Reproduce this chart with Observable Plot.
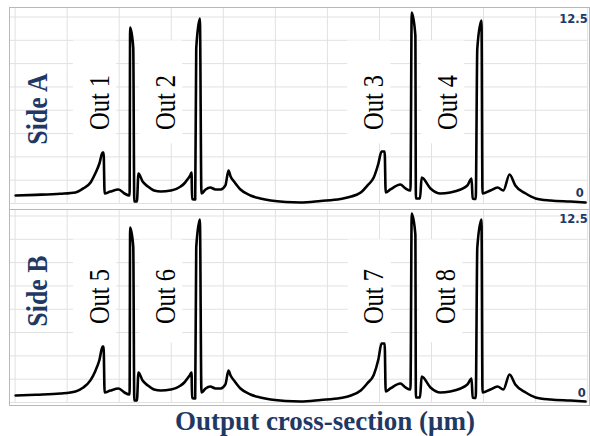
<!DOCTYPE html>
<html><head><meta charset="utf-8">
<script src="https://cdn.jsdelivr.net/npm/d3@7"></script>
<script src="https://cdn.jsdelivr.net/npm/@observablehq/plot@0.6"></script>
<style>
body{margin:0;background:#fff;width:590px;height:436px;overflow:hidden;position:relative}
#a{position:absolute;left:0;top:8px}
#b{position:absolute;left:0;top:209px}
.border{position:absolute;border:1.5px solid #b8b8b8;box-sizing:border-box;pointer-events:none}
#xlabel{position:absolute;left:60px;width:530px;top:406px;text-align:center;font:bold 27px/30px "Liberation Serif",serif;color:#1f3864;white-space:nowrap}
</style></head><body>
<div id="a"></div><div id="b"></div>
<div class="border" style="left:9px;top:7px;width:581px;height:203px"></div>
<div class="border" style="left:9px;top:209px;width:581px;height:197px"></div>
<div id="xlabel">Output cross-section (μm)</div>
<script>
// position across the output cross-section (μm)
const xPos = [0.1,4.0,8.7,11.6,13.1,14.5,15.4,16.2,16.8,17.0,17.2,18.3,19.9,21.0,22.0,22.1,22.7,22.9,23.4,23.7,
  24.5,25.5,26.7,28.0,29.9,31.0,31.8,32.5,33.1,33.6,33.9,34.0,34.6,34.8,35.5,35.8,36.6,37.5,38.5,39.5,
  40.4,41.0,41.4,42.2,43.3,45.2,47.1,49.1,52.0,54.8,58.7,62.5,64.4,66.4,67.7,68.9,69.8,70.4,71.0,71.2,
  72.1,74.0,75.0,75.96,76.2,76.9,77.0,77.8,78.1,79.8,81.7,83.6,85.6,86.9,87.7,87.9,88.5,88.8,89.6,89.8,
  91.3,92.7,93.8,95.0,96.1,98.1,100.0,102.9,106.7,109.6];
// intensity profile, side A
const sideA = [0.54,0.58,0.65,0.74,1.01,1.41,2.01,2.68,3.42,3.42,0.67,0.80,0.94,0.67,0.54,11.8,10.45,0.13,0.13,2.01,
  1.47,1.14,0.87,0.8,0.87,0.98,1.14,1.34,1.61,1.85,2.08,0.3,0.27,10.39,12.4,0.67,0.94,1.07,0.94,0.94,
  1.21,2.21,1.81,1.41,0.94,0.54,0.34,0.2,0.1,0.07,0.17,0.3,0.45,0.74,1.21,1.74,2.68,3.49,3.49,0.74,
  0.94,1.27,1.01,0.87,12.8,11.26,0.34,0.34,1.74,1.01,0.67,0.74,0.94,1.21,1.68,0.34,0.3,10.39,12.27,0.67,
  0.87,1.07,0.87,1.94,1.21,0.67,0.34,0.2,0.13,0.07];
// intensity profile, side B
const sideB = [0.47,0.52,0.6,0.74,1.0,1.5,2.1,2.85,3.75,3.75,0.67,0.80,0.94,0.67,0.54,11.73,10.45,0.13,0.13,2.01,
  1.47,1.14,0.87,0.8,0.87,0.98,1.14,1.34,1.61,1.85,2.0,0.3,0.27,10.39,12.27,0.67,0.94,1.07,0.94,0.94,
  1.21,2.14,1.81,1.41,0.94,0.54,0.34,0.2,0.1,0.07,0.17,0.3,0.45,0.8,1.3,1.85,2.9,3.95,3.95,0.74,
  0.94,1.27,1.01,0.87,12.67,11.26,0.34,0.34,1.74,1.01,0.67,0.74,0.94,1.21,1.6,0.34,0.3,10.39,12.27,0.67,
  0.87,1.07,0.87,1.88,1.21,0.67,0.34,0.2,0.13,0.07];
const outNamesA = ["Out 1","Out 2","Out 3","Out 4"];
const outXA = [16.2, 28.9, 68.9, 83.1];
const outNamesB = ["Out 5","Out 6","Out 7","Out 8"];
const outXB = [16.2, 28.9, 69.0, 82.7];
const sideNames = ["Side A","Side B"];
const yTicks = [0, 12.5];
const yTickLabels = ["0", "12.5"];

const xGrid = d3.range(0, 111, 10);
const yGrid = d3.range(0, 9).map(k => k * 12.5 / 8);
const navy = "#1f3864";

function panel({values, names, nx, ny, side, sideY, height, mTop, mBottom, topDy, zeroDx, zeroDy}) {
  const data = xPos.map((x, i) => ({x, v: values[i]}));
  const labels = names.map((n, i) => ({n, x: nx[i], y: ny}));
  const svg = Plot.plot({
    width: 590, height, marginLeft: 14.6, marginRight: 2.85, marginTop: mTop, marginBottom: mBottom,
    x: {domain: [0, 110], axis: null},
    y: {domain: [0, 12.5], axis: null},
    style: {background: "transparent", overflow: "visible"},
    marks: [
      Plot.ruleX(xGrid, {stroke: "#e1e1e1", strokeWidth: 1, insetTop: -mTop}),
      Plot.ruleY(yGrid, {stroke: "#e1e1e1", strokeWidth: 1, insetLeft: -5}),
      Plot.rect(labels, {x1: d => d.x - 5, x2: d => d.x + 3.3, y1: 4.0, y2: 10.9, fill: "white"}),
      Plot.line(data, {x: "x", y: "v", stroke: "black", strokeWidth: 2.6, curve: "monotone-x"}),
      Plot.text(labels, {x: "x", y: "y", text: "n", rotate: -90, fontSize: 24.5, fontFamily: "Liberation Serif", fill: "black"}),
      Plot.text([side], {frameAnchor: "left", dx: 22, y: () => sideY, text: d => d, rotate: -90, textAnchor: "middle", fontSize: 26, fontWeight: "bold", fontFamily: "Liberation Serif", fill: navy}),
      Plot.text([yTicks[1]], {x: () => 110, y: d => d, text: () => yTickLabels[1], textAnchor: "end", dy: topDy, fontSize: 11.5, fontWeight: "bold", fontFamily: "DejaVu Sans", fill: navy}),
      Plot.text([yTicks[0]], {x: () => 110, y: d => d, text: () => yTickLabels[0], textAnchor: "end", dx: zeroDx, dy: zeroDy, fontSize: 11.5, fontWeight: "bold", fontFamily: "DejaVu Sans", fill: navy})
    ]
  });
  d3.select(svg).selectAll("text").each(function() {
    const t = this.getAttribute("transform");
    if (t && t.includes("rotate")) this.setAttribute("transform", t + " scale(1,1.17)");
  });
  return svg;
}

document.getElementById("a").append(panel({values: sideA, names: outNamesA, nx: outXA, ny: 6.77, side: sideNames[0], sideY: 6.33,
  height: 201, mTop: 8.5, mBottom: 6, topDy: 2.5, zeroDx: -4, zeroDy: -10}));
document.getElementById("b").append(panel({values: sideB, names: outNamesB, nx: outXB, ny: 7.1, side: sideNames[1], sideY: 7.47,
  height: 197, mTop: 6.5, mBottom: 4, topDy: 3.5, zeroDx: -2, zeroDy: -9}));
</script>
</body></html>
